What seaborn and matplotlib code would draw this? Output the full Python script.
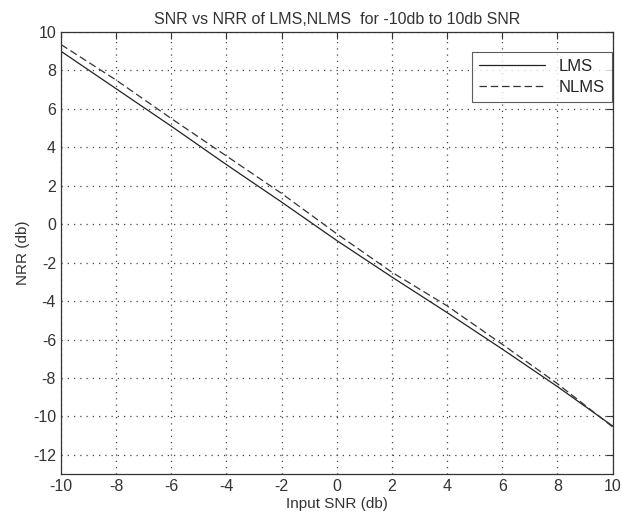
import numpy as np
import pandas as pd
import matplotlib
matplotlib.use("Agg")
import matplotlib.pyplot as plt
import seaborn as sns

# ── Data ─────────────────────────────────────────────────────────────────────
snr_in   = [-10, -8, -6, -4, -2, 0, 2, 4, 6, 8, 10]
nrr_lms  = [9.0, 7.05, 5.1, 3.1, 1.15, -0.85, -2.75, -4.6, -6.5, -8.45, -10.5]
nrr_nlms = [9.35, 7.5, 5.5, 3.55, 1.6, -0.5, -2.5, -4.25, -6.25, -8.3, -10.55]

x_ticks = list(range(-10, 11, 2))
y_ticks = list(range(-12, 11, 2))

df = pd.DataFrame({
    "snr": snr_in * 2,
    "nrr": nrr_lms + nrr_nlms,
    "algo": ["LMS"] * len(snr_in) + ["NLMS"] * len(snr_in),
})

sns.set_style("white")
plt.rcParams["font.family"] = ["Liberation Sans", "DejaVu Sans"]
plt.rcParams["axes.unicode_minus"] = False

fig = plt.figure(figsize=(6.22, 5.25), dpi=100)
ax = fig.add_axes([0.098, 0.097, 0.887, 0.842])

sns.lineplot(
    data=df, x="snr", y="nrr", hue="algo", style="algo",
    palette={"LMS": "#222222", "NLMS": "#333333"},
    dashes={"LMS": "", "NLMS": (6, 3)},
    linewidth=0.9, ax=ax, legend=False,
)

ax.set_xlim(-10, 10)
ax.set_ylim(-13, 10)
ax.set_xticks(x_ticks)
ax.set_yticks(y_ticks)
ax.tick_params(direction="in", length=5, top=True, right=True,
               labelsize=11.5, colors="#333333")
ax.grid(True, linestyle=(0, (1, 4)), color="#444444", linewidth=0.9)
for s in ax.spines.values():
    s.set_color("#333333")
    s.set_linewidth(0.9)

ax.set_title("SNR vs NRR of LMS,NLMS  for -10db to 10db SNR",
             fontsize=11.5, color="#333333")
ax.set_xlabel("Input SNR (db)", fontsize=11, color="#333333", labelpad=2)
ax.set_ylabel("NRR (db)", fontsize=11, color="#333333", labelpad=2)

h1, = ax.plot([], [], color="#222222", lw=0.9, label="LMS")
h2, = ax.plot([], [], color="#333333", lw=0.9, ls=(0, (6, 3)), label="NLMS")
leg = ax.legend(handles=[h1, h2], loc="upper right", fontsize=12,
                handlelength=4, frameon=True, fancybox=False,
                edgecolor="#333333", borderaxespad=0,
                bbox_to_anchor=(0.998, 0.955), labelspacing=0.4)
leg.get_frame().set_linewidth(0.8)

fig.savefig("out.png", dpi=100)
